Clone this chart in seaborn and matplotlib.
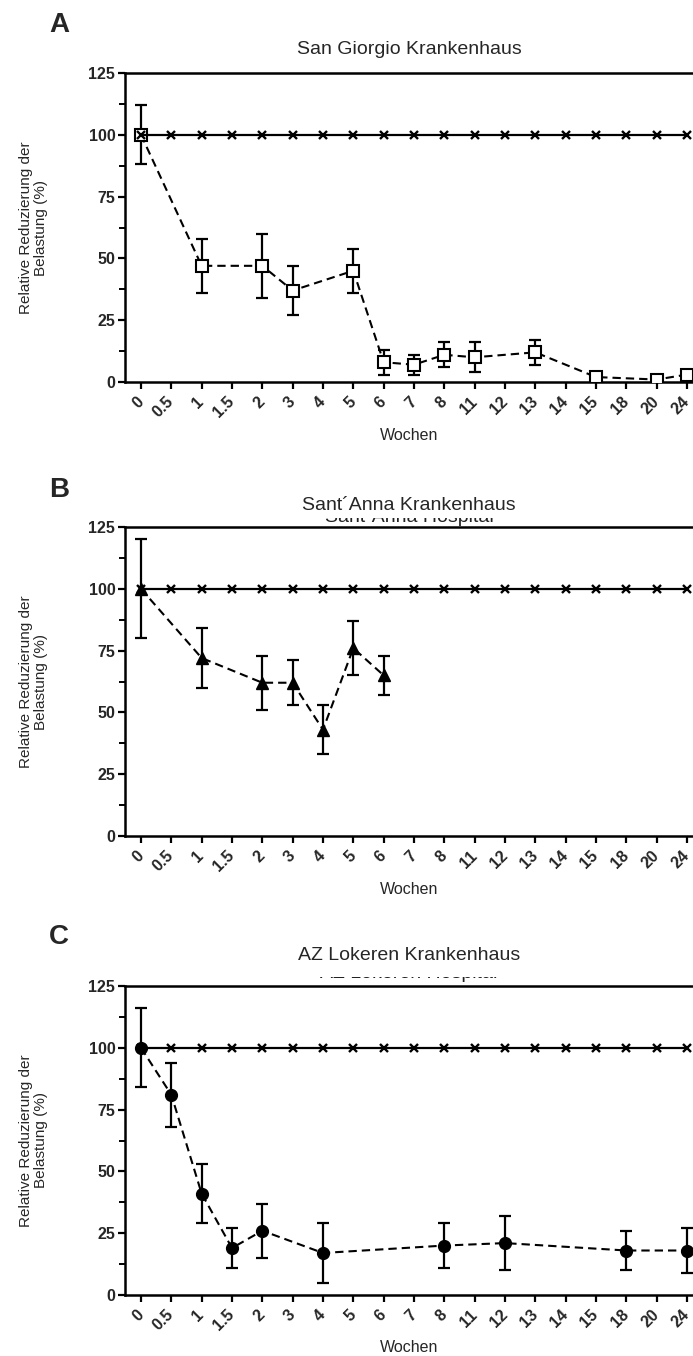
import numpy as np
import pandas as pd
import matplotlib
matplotlib.use("Agg")
import matplotlib.pyplot as plt
import seaborn as sns
from matplotlib.ticker import MultipleLocator
from matplotlib.patches import Rectangle

# ---------------- data ----------------
weeks = ['0', '0.5', '1', '1.5', '2', '3', '4', '5', '6', '7', '8',
         '11', '12', '13', '14', '15', '18', '20', '24']
reference_pct = [100, 100, 100, 100, 100, 100, 100, 100, 100, 100,
                 100, 100, 100, 100, 100, 100, 100, 100, 100]

sg_weeks = ['0', '1', '2', '3', '5', '6', '7', '8', '11', '13', '15', '20', '24']
sg_mean = [100, 47, 47, 37, 45, 8, 7, 11, 10, 12, 2, 1, 3]
sg_err = [12, 11, 13, 10, 9, 5, 4, 5, 6, 5, 1.5, 1, 1.5]

sa_weeks = ['0', '1', '2', '3', '4', '5', '6']
sa_mean = [100, 72, 62, 62, 43, 76, 65]
sa_err = [20, 12, 11, 9, 10, 11, 8]

az_weeks = ['0', '0.5', '1', '1.5', '2', '4', '8', '12', '18', '24']
az_mean = [100, 81, 41, 19, 26, 17, 20, 21, 18, 18]
az_err = [16, 13, 12, 8, 11, 12, 9, 11, 8, 9]

titles = ['San Giorgio Krankenhaus', 'Sant\u00b4Anna Krankenhaus', 'AZ Lokeren Krankenhaus']
ghost_titles = [None, 'Sant\u00b4Anna Hospital', 'AZ Lokeren Hospital']
letters = ['A', 'B', 'C']
ylabel = 'Relative Reduzierung der\nBelastung (%)'
xlabel = 'Wochen'

# ---------------- style ----------------
sns.set_style("ticks")
plt.rcParams['font.family'] = ['Liberation Sans', 'DejaVu Sans']

W, H = 693, 1356
fig = plt.figure(figsize=(W / 100, H / 100), dpi=100)

AX_LEFT, AX_W, AX_H = 125, 568, 309
tops = [73, 527, 986]
letter_y = [25, 490, 937]
title_y = [50, 506, 955]
ghost_base = [None, 522, 978]
ghost_keep = [None, 4, 1.5]

series = [
    (sg_weeks, sg_mean, sg_err, dict(marker='s', markersize=8.5, markerfacecolor='white',
                                     markeredgecolor='black', markeredgewidth=1.5)),
    (sa_weeks, sa_mean, sa_err, dict(marker='^', markersize=8.5, markerfacecolor='black',
                                     markeredgecolor='black', markeredgewidth=1.0)),
    (az_weeks, az_mean, az_err, dict(marker='o', markersize=8.5, markerfacecolor='black',
                                     markeredgecolor='black', markeredgewidth=1.0)),
]

pos = {w: i for i, w in enumerate(weeks)}
spacing = 30.33  # px per category
xmin = -16 / spacing
xmax = xmin + AX_W / spacing


def fx(px):
    return px / W


def fy(py):
    return 1 - py / H


for k in range(3):
    top = tops[k]
    ax = fig.add_axes([fx(AX_LEFT), fy(top + AX_H), AX_W / W, AX_H / H])
    wk, mean, err, mstyle = series[k]
    xs = [pos[w] for w in wk]

    # reference (untreated) line
    ref_df = pd.DataFrame({'x': list(range(len(weeks))), 'y': reference_pct})
    sns.lineplot(data=ref_df, x='x', y='y', ax=ax, color='black', linewidth=1.6,
                 marker='x', markersize=5.5, markeredgewidth=1.7,
                 markeredgecolor='black', zorder=5, errorbar=None, legend=False)

    # error bars
    ax.errorbar(xs, mean, yerr=err, fmt='none', ecolor='black', elinewidth=1.6,
                capsize=4.2, capthick=1.6, zorder=3)

    # treated series
    df = pd.DataFrame({'x': xs, 'y': mean})
    sns.lineplot(data=df, x='x', y='y', ax=ax, color='black', linewidth=1.5,
                 linestyle=(0, (4, 2.4)), zorder=4, errorbar=None, legend=False,
                 **mstyle)

    ax.set_xlim(xmin, xmax)
    ax.set_ylim(0, 125)
    ax.set_xticks(range(len(weeks)))
    ax.set_xticklabels(weeks, rotation=45, ha='right', va='center',
                       rotation_mode='anchor', fontsize=11.5, fontweight='bold')
    ax.yaxis.set_major_locator(MultipleLocator(25))
    ax.yaxis.set_minor_locator(MultipleLocator(12.5))
    for lab in ax.get_yticklabels():
        lab.set_fontweight('bold')
        lab.set_fontsize(11.5)
    ax.tick_params(axis='both', which='major', direction='out', length=5, width=1.6,
                   color='black')
    ax.tick_params(axis='x', which='major', pad=7.5)
    ax.tick_params(axis='y', which='major', pad=2)
    ax.tick_params(axis='y', which='minor', direction='out', length=4, width=1.4,
                   color='black')
    for side in ['left', 'bottom', 'top']:
        ax.spines[side].set_visible(True)
        ax.spines[side].set_linewidth(1.8)
        ax.spines[side].set_color('black')
    ax.spines['right'].set_visible(False)

    ax.set_xlabel(xlabel, fontsize=11.5)
    ax.xaxis.set_label_coords(0.5, -53 / AX_H, transform=ax.transAxes)
    ax.xaxis.label.set_va('center')
    ax.set_ylabel(ylabel, fontsize=11, linespacing=1.1)
    ax.yaxis.set_label_coords(-(AX_LEFT - 48) / AX_W, 0.5)

    # panel letter and title
    fig.text(fx(59), fy(letter_y[k]), letters[k], fontsize=20, fontweight='bold',
             ha='center', va='center')
    cx = fx(AX_LEFT + (W - AX_LEFT) / 2)
    fig.text(cx, fy(title_y[k]), titles[k], fontsize=14, ha='center', va='center',
             zorder=10)

    # partially hidden old title (only its lowest strip remains visible)
    if ghost_titles[k] is not None:
        base = ghost_base[k]
        fig.text(cx, fy(base), ghost_titles[k], fontsize=14, ha='center',
                 va='baseline', zorder=1, color='#222222')
        keep = ghost_keep[k]
        top_cover = base - 24
        rect = Rectangle((fx(200), fy(base - keep)), fx(450),
                         (base - keep - top_cover) / H,
                         transform=fig.transFigure, facecolor='white',
                         edgecolor='none', zorder=2)
        fig.patches.append(rect)

fig.savefig('out.png', dpi=100)
